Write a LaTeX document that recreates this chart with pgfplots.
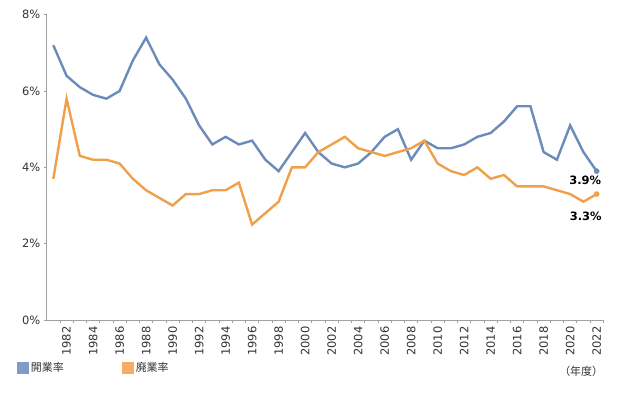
\documentclass[border=0pt]{standalone}
\usepackage{pgfplots}
\pgfplotsset{compat=1.18}
\usepackage{fontspec}
\setmainfont{DejaVu Sans}
\newfontfamily\jp{Noto Sans CJK JP}
\definecolor{cblue}{HTML}{6B8BBA}
\definecolor{corange}{HTML}{F0A04A}
\definecolor{lblue}{HTML}{7F9CC6}
\definecolor{lorange}{HTML}{F4AE62}
\definecolor{axgray}{HTML}{A0A0A0}
\definecolor{txt}{HTML}{333333}
\pgfplotstableread{
year open close
1981 7.2 3.7
1982 6.4 5.8
1983 6.1 4.3
1984 5.9 4.2
1985 5.8 4.2
1986 6.0 4.1
1987 6.8 3.7
1988 7.4 3.4
1989 6.7 3.2
1990 6.3 3.0
1991 5.8 3.3
1992 5.1 3.3
1993 4.6 3.4
1994 4.8 3.4
1995 4.6 3.6
1996 4.7 2.5
1997 4.2 2.8
1998 3.9 3.1
1999 4.4 4.0
2000 4.9 4.0
2001 4.4 4.4
2002 4.1 4.6
2003 4.0 4.8
2004 4.1 4.5
2005 4.4 4.4
2006 4.8 4.3
2007 5.0 4.4
2008 4.2 4.5
2009 4.7 4.7
2010 4.5 4.1
2011 4.5 3.9
2012 4.6 3.8
2013 4.8 4.0
2014 4.9 3.7
2015 5.2 3.8
2016 5.6 3.5
2017 5.6 3.5
2018 4.4 3.5
2019 4.2 3.4
2020 5.1 3.3
2021 4.4 3.1
2022 3.9 3.3
}\datatable
\begin{document}
\begin{tikzpicture}
\useasboundingbox (-46.7bp,-73bp) rectangle (574.3bp,320bp);
\begin{axis}[
  at={(0,0)}, anchor=south west,
  scale only axis,
  width=556.6bp, height=305.3bp,
  xmin=1980.5, xmax=2022.5,
  ymin=0, ymax=8,
  axis lines*=left,
  axis line style={axgray, line width=0.8bp},
  xtick={1982,1984,...,2022},
  minor xtick={1981.5,1982.5,...,2022.5},
  major x tick style={draw=none},
  minor x tick style={axgray, line width=0.8bp},
  minor tick length=3bp,
  ytick={0,2,4,6,8},
  yticklabels={0\%,2\%,4\%,6\%,8\%},
  y tick style={axgray, line width=0.8bp},
  major tick length=3bp,
  tick align=outside,
  x tick label style={rotate=90, anchor=east, font=\fontsize{11.5}{13}\selectfont, text=txt},
  y tick label style={font=\fontsize{11.5}{13}\selectfont, text=txt},
  xticklabel={\pgfmathprintnumber[1000 sep={},fixed]{\tick}},
  /pgf/number format/assume math mode=true,
  legend image code/.code={\fill[#1] (0bp,-6bp) rectangle (12bp,6bp);},
  legend columns=2,
  legend style={draw=none, fill=none, at={(axis description cs:0,0)}, anchor=west, xshift=-30bp, yshift=-48bp,
    font=\jp\fontsize{11}{13}\selectfont, text=txt, inner sep=0pt,
    /tikz/every even column/.append style={column sep=56bp}},
  legend cell align=left,
  clip=false,
]
\addlegendimage{fill=lblue, draw=none}
\addlegendentry{開業率}
\addlegendimage{fill=lorange, draw=none}
\addlegendentry{廃業率}
\addplot[cblue, line width=2.4bp, forget plot] table[x=year, y=open] {\datatable};
\addplot[corange, line width=2.4bp, forget plot] table[x=year, y=close] {\datatable};
\addplot[cblue, only marks, mark=*, mark size=2.6bp, forget plot] coordinates {(2022,3.9)};
\addplot[corange, only marks, mark=*, mark size=2.6bp, forget plot] coordinates {(2022,3.3)};
\node[font=\bfseries\fontsize{11.5}{13}\selectfont, text=black] at (axis cs:2022,3.9) [xshift=-11.5bp, yshift=-9bp] {3.9\%};
\node[font=\bfseries\fontsize{11.5}{13}\selectfont, text=black] at (axis cs:2022,3.3) [xshift=-11bp, yshift=-22.5bp] {3.3\%};
\node[anchor=east, font=\jp\fontsize{11}{13}\selectfont, text=txt, inner sep=0pt] at (axis description cs:1,0) [yshift=-51bp] {（年度）};
\end{axis}
\end{tikzpicture}
\end{document}
